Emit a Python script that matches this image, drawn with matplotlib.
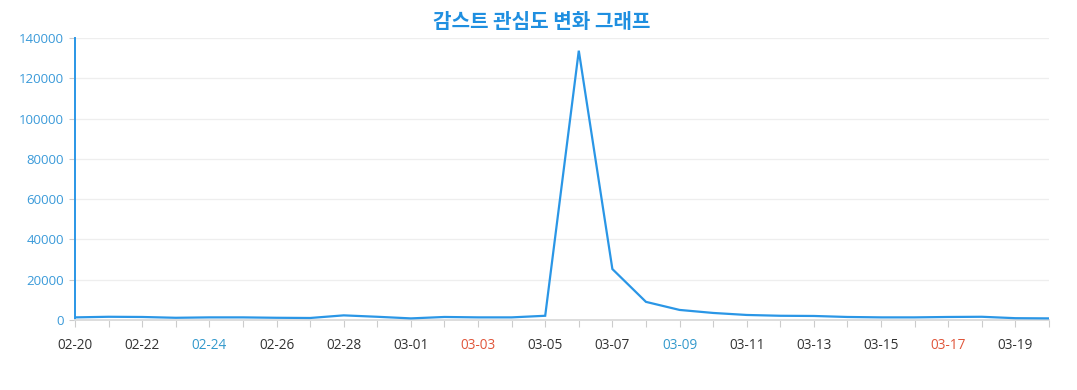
import matplotlib
matplotlib.use("Agg")
import matplotlib.pyplot as plt

dates = ["02-20", "02-21", "02-22", "02-23", "02-24", "02-25", "02-26", "02-27", "02-28", "02-29",
         "03-01", "03-02", "03-03", "03-04", "03-05", "03-06", "03-07", "03-08", "03-09",
         "03-10", "03-11", "03-12", "03-13", "03-14", "03-15", "03-16", "03-17", "03-18",
         "03-19", "03-20"]
values = [1300, 1600, 1500, 1100, 1300, 1300, 1100, 1000, 2300, 1600,
          800, 1500, 1300, 1300, 2100, 133700, 25300, 9000, 5000,
          3500, 2500, 2100, 2000, 1500, 1300, 1300, 1500, 1600,
          900, 800]
label_colors = {"02-24": "#3399cc", "03-03": "#e0553a", "03-09": "#3399cc", "03-17": "#e0553a"}
yticks = [0, 20000, 40000, 60000, 80000, 100000, 120000, 140000]
title = "감스트 관심도 변화 그래프"

plt.rcParams['font.family'] = ['Open Sans', 'Noto Sans CJK KR', 'DejaVu Sans']

fig = plt.figure(figsize=(10.77, 3.9), dpi=100)
ax = fig.add_axes([75/1077, 70/390, (1049-75)/1077, (320-38)/390])

x = list(range(len(dates)))
ax.plot(x, values, color="#2a96e6", lw=1.6, solid_joinstyle="miter", zorder=3)

ax.set_xlim(0, len(dates) - 1)
ax.set_ylim(0, 140000)
ax.set_yticks(yticks)
ax.set_yticklabels([str(v) for v in yticks])
ax.grid(axis="y", color="#eeeeee", lw=0.9, zorder=0)

ax.set_xticks(x, minor=True)
ax.set_xticks(x[::2])
ax.set_xticklabels(dates[::2])
for lbl in ax.get_xticklabels():
    lbl.set_color(label_colors.get(lbl.get_text(), "#333333"))

ax.tick_params(axis="x", which="both", length=5, color="#cccccc", width=0.8, labelsize=9.8, pad=8)
ax.tick_params(axis="y", length=4, color="#cccccc", width=0.8, labelsize=9.5, labelcolor="#3a9ad9", pad=4)

for s in ["top", "right"]:
    ax.spines[s].set_visible(False)
ax.spines["left"].set_color("#2a96e6")
ax.spines["left"].set_linewidth(1.4)
ax.spines["bottom"].set_color("#dddddd")
ax.spines["bottom"].set_linewidth(1.4)

fig.text(542/1077, 1 - 21/390, title, ha="center", va="center", fontsize=14.5, fontweight="bold",
         color="#1f8fe0", family=["Noto Sans CJK KR", "DejaVu Sans"])

fig.savefig("out.png", dpi=100)
